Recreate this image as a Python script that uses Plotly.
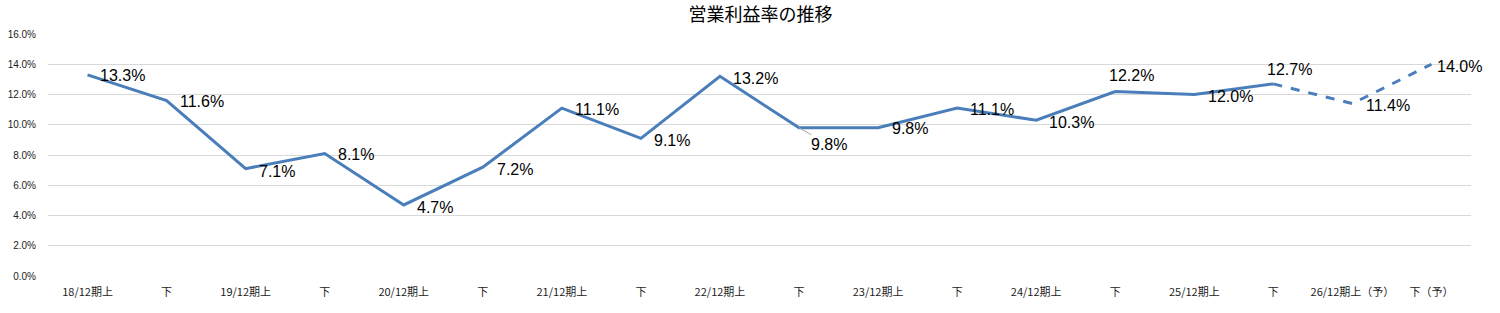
import plotly.graph_objects as go

categories = ["18/12期上", "下", "19/12期上", "下", "20/12期上", "下", "21/12期上", "下",
              "22/12期上", "下", "23/12期上", "下", "24/12期上", "下", "25/12期上", "下",
              "26/12期上（予）", "下（予）"]
margin_pct = [13.3, 11.6, 7.1, 8.1, 4.7, 7.2, 11.1, 9.1, 13.2, 9.8, 9.8, 11.1, 10.3, 12.2,
              12.0, 12.7, 11.4, 14.0]
n_actual = 16  # last actual point index + 1; rest are forecasts
y_ticks = [0, 2, 4, 6, 8, 10, 12, 14, 16]
y_tick_text = ["0.0%", "2.0%", "4.0%", "6.0%", "8.0%", "10.0%", "12.0%", "14.0%", "16.0%"]

# label offsets (pixels): (xshift, yshift, xanchor)
label_style = [
    (10, -1, "left"), (11, -1, "left"), (11, -3, "left"), (11, -1, "left"), (11, -3, "left"),
    (12, -2, "left"), (11, -1, "left"), (11, -2, "left"), (11, -2, "left"), None,
    (12, -1, "left"), (11, -1, "left"), (11, -2, "left"), (16, 16, "center"),
    (12, -2, "left"), (16, 14, "center"), (12, -2, "left"), (4, -2, "left"),
]

line_color = "#4a7ebb"
fig = go.Figure()
x_idx = list(range(len(categories)))
fig.add_trace(go.Scatter(x=x_idx[:n_actual], y=margin_pct[:n_actual], mode="lines",
                         line=dict(color=line_color, width=3), hoverinfo="skip"))
fig.add_trace(go.Scatter(x=x_idx[n_actual - 1:], y=margin_pct[n_actual - 1:], mode="lines",
                         line=dict(color=line_color, width=3, dash="dash"), hoverinfo="skip"))

annotations = []
for i, v in enumerate(margin_pct):
    st = label_style[i]
    txt = f"{v:.1f}%"
    if st is None:
        annotations.append(dict(x=i, y=v, xref="x", yref="y", text=txt, showarrow=True,
                                arrowhead=0, arrowwidth=1, arrowcolor="#a6a6a6",
                                ax=30, ay=17, font=dict(size=16, color="#000000",
                                family="Liberation Sans, Arial, sans-serif")))
    else:
        xs, ys, xa = st
        annotations.append(dict(x=i, y=v, xref="x", yref="y", text=txt, showarrow=False,
                                xanchor=xa, yanchor="middle", xshift=xs, yshift=ys,
                                font=dict(size=16, color="#000000",
                                          family="Liberation Sans, Arial, sans-serif")))

fig.update_layout(
    width=1500, height=313,
    margin=dict(l=48, r=29, t=34, b=37),
    paper_bgcolor="white", plot_bgcolor="white",
    showlegend=False,
    title=dict(text="営業利益率の推移", x=0.507, xanchor="center", y=0.952, yanchor="middle",
               font=dict(size=18, color="#000000", family="Noto Sans CJK JP, sans-serif")),
    annotations=annotations,
    xaxis=dict(range=[-0.5, len(categories) - 0.5], tickmode="array", tickvals=x_idx,
               ticktext=categories, showgrid=False, zeroline=False, showline=False,
               ticks="outside", ticklen=6, tickcolor="rgba(0,0,0,0)", automargin=False,
               tickfont=dict(size=11, color="#222222", family="Noto Sans CJK JP, sans-serif")),
    yaxis=dict(range=[0, 16], tickmode="array", tickvals=y_ticks, ticktext=y_tick_text,
               showgrid=True, gridcolor="#d9d9d9", gridwidth=1, zeroline=False,
               showline=False, ticks="outside", ticklen=9, tickcolor="rgba(0,0,0,0)",
               automargin=False,
               tickfont=dict(size=10, color="#222222", family="Liberation Sans, Arial, sans-serif")),
)

fig.write_html("out.html")
